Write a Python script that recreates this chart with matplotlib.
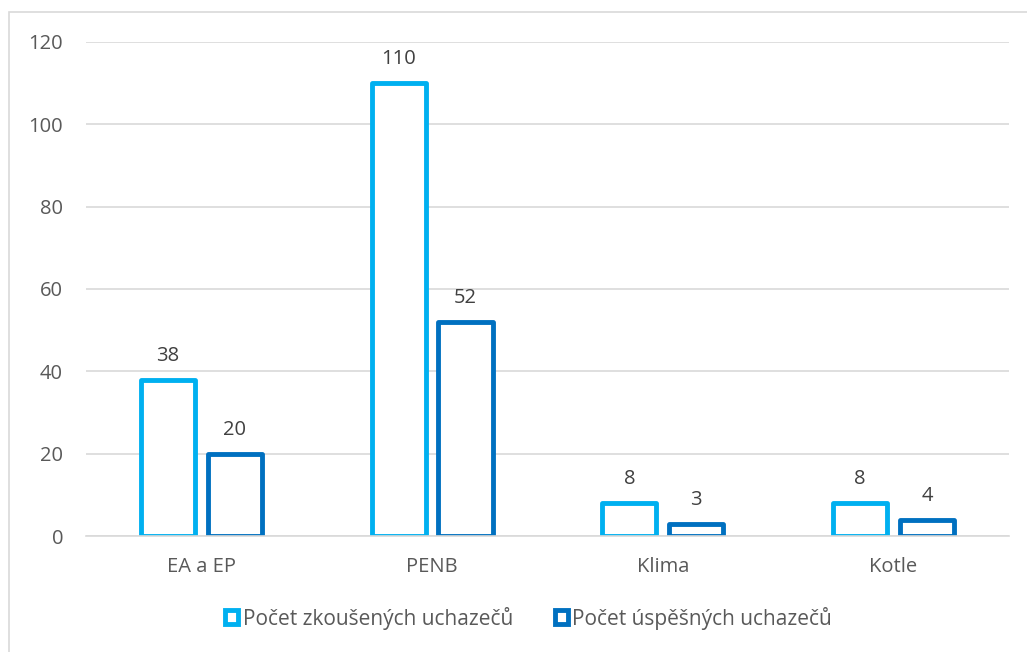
"""Počet zkoušených a úspěšných uchazečů."""
import matplotlib
matplotlib.use('Agg')
import matplotlib.pyplot as plt
import matplotlib.patches as mpatches
import numpy as np

categories = ['EA a EP', 'PENB', 'Klima', 'Kotle']
tested = [38, 110, 8, 8]
passed = [20, 52, 3, 4]
series_names = ['Počet zkoušených uchazečů', 'Počet úspěšných uchazečů']
yticks = [0, 20, 40, 60, 80, 100, 120]

LIGHT = '#00B0F0'
DARK = '#0070C0'
TXT = '#595959'
GRID = '#D9D9D9'

plt.rcParams['font.family'] = ['Open Sans', 'DejaVu Sans']

fig = plt.figure(figsize=(10.27, 6.52), dpi=100)
ax = fig.add_axes([0.0837, 0.1779, 0.8987, 0.7577])

x = np.arange(len(categories))
w = 0.235
off = 0.145

for vals, col, dx in [(tested, LIGHT, -off), (passed, DARK, off)]:
    bars = ax.bar(
        x + dx, vals, width=w,
        facecolor='white', edgecolor=col, linewidth=3.5,
        joinstyle='round', zorder=3,
    )
    for b, v in zip(bars, vals):
        ax.annotate(
            str(v), (b.get_x() + b.get_width() / 2, v),
            xytext=(0, 10), textcoords='offset points',
            ha='center', va='bottom', fontsize=14.5, color='#404040',
        )

ax.set_xlim(-0.5, 3.5)
ax.set_ylim(0, 120)
ax.set_yticks(yticks)
ax.set_xticks(x)
ax.set_xticklabels(categories)
ax.tick_params(axis='both', length=0, labelsize=14.5, labelcolor=TXT)
ax.tick_params(axis='y', pad=16.5)
ax.tick_params(axis='x', pad=15)
ax.grid(axis='y', color=GRID, lw=1.2, zorder=0)
for s in ['top', 'right', 'left']:
    ax.spines[s].set_visible(False)
ax.spines['bottom'].set_color(GRID)
ax.spines['bottom'].set_linewidth(1.2)
ax.spines['bottom'].set_zorder(4)

handles = [
    mpatches.Patch(facecolor='white', edgecolor=LIGHT, linewidth=3.5),
    mpatches.Patch(facecolor='white', edgecolor=DARK, linewidth=3.5),
]
leg = fig.legend(
    handles, series_names, loc='center', bbox_to_anchor=(0.5146, 0.052),
    ncol=2, frameon=False, fontsize=15, handlelength=0.65, handleheight=0.65,
    handletextpad=0.2, columnspacing=2.0,
)
for t in leg.get_texts():
    t.set_color(TXT)

# outer frame, open to the right and bottom like the cropped original
fig.patches.append(mpatches.Rectangle(
    (9 / 1027, -20 / 652), 1040 / 1027, 660 / 652,
    transform=fig.transFigure, facecolor='none', edgecolor=GRID, lw=1.2,
))

fig.savefig('out.png', dpi=100)
plt.close(fig)
